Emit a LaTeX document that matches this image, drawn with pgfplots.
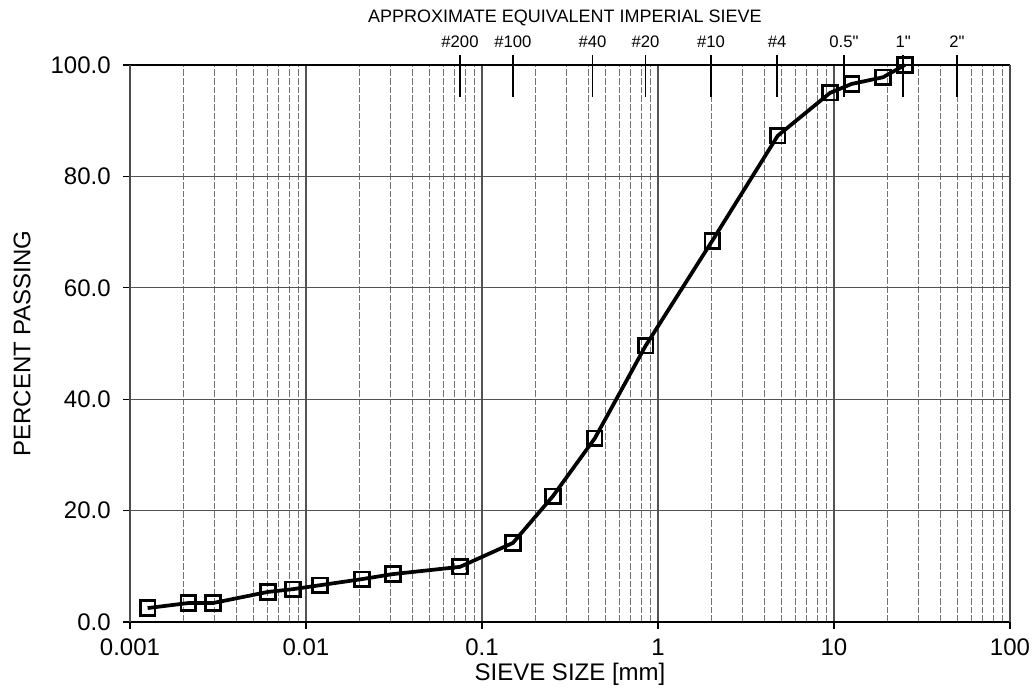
\documentclass[border=0pt]{standalone}
\usepackage{fontspec}
\setmainfont{Liberation Sans}[Ligatures=TeXOff]
\usepackage{pgfplots}
\pgfplotsset{compat=1.18}
\pgfplotstableread{
x y
0.00126 2.5
0.00214 3.4
0.00296 3.4
0.00608 5.4
0.00844 5.9
0.0120 6.6
0.0208 7.7
0.0312 8.6
0.075 9.9
0.150 14.2
0.253 22.6
0.438 33.0
0.851 49.6
2.03 68.4
4.79 87.3
9.5 95.0
12.6 96.6
19.0 97.8
25.3 100.0
}\gsd
\begin{document}
\begin{tikzpicture}
\useasboundingbox (-97.5pt,-55.5pt) rectangle (679.5pt,466.5pt);
\begin{axis}[
  at={(0pt,0pt)}, anchor=south west,
  scale only axis, width=660pt, height=417.75pt,
  xmode=log, xmin=0.001, xmax=100, ymin=0, ymax=100,
  xtick={0.001,0.01,0.1,1,10,100},
  xticklabels={0.001,0.01,0.1,1,10,100},
  minor xtick={0.002,0.003,0.004,0.005,0.006,0.007,0.008,0.009,
    0.02,0.03,0.04,0.05,0.06,0.07,0.08,0.09,
    0.2,0.3,0.4,0.5,0.6,0.7,0.8,0.9,
    2,3,4,5,6,7,8,9,20,30,40,50,60,70,80,90},
  ytick={0,20,40,60,80,100},
  yticklabels={0.0,20.0,40.0,60.0,80.0,100.0},
  xmajorgrids, xminorgrids, ymajorgrids,
  major grid style={draw=black!68, line width=0.9pt},
  minor grid style={draw=black!55, line width=0.6pt, dash pattern=on 5pt off 1.5pt},
  axis line style={draw=black!70, line width=0.9pt},
  separate axis lines,
  x axis line style={draw=black},
  tick align=outside, major tick length=5pt, minor tick length=0pt,
  xtick pos=bottom, ytick pos=left,
  tick style={black, line width=0.8pt},
  tick label style={font=\fontsize{18}{20}\selectfont},
  xticklabel style={yshift=-4pt},
  yticklabel style={xshift=-6pt},
  label style={font=\fontsize{18}{20}\selectfont},
  xlabel={SIEVE SIZE [mm]},
  ylabel={PERCENT PASSING},
  xlabel style={at={(rel axis cs:0.5,0)}, anchor=center, yshift=-39pt},
  ylabel style={at={(axis description cs:-0.1227,0.5)}, anchor=center},
  clip=false,
]
\addplot[black, line width=2.8pt, mark=square, mark size=5.5pt,
  mark options={line width=1.9pt, fill=none, solid}] table[x=x,y=y] {\gsd};
% approximate equivalent imperial sieve markers
\addplot[black, line width=1.3pt] coordinates {(0.075,94.3) (0.075,101.8)};
\addplot[black, line width=1.3pt] coordinates {(0.15,94.3) (0.15,101.8)};
\addplot[black, line width=1.3pt] coordinates {(0.425,94.3) (0.425,101.8)};
\addplot[black, line width=1.3pt] coordinates {(0.85,94.3) (0.85,101.8)};
\addplot[black, line width=1.3pt] coordinates {(2.0,94.3) (2.0,101.8)};
\addplot[black, line width=1.3pt] coordinates {(4.75,94.3) (4.75,101.8)};
\addplot[black, line width=1.3pt] coordinates {(11.4,94.3) (11.4,101.8)};
\addplot[black, line width=1.3pt] coordinates {(24.7,94.3) (24.7,101.8)};
\addplot[black, line width=1.3pt] coordinates {(50,94.3) (50,101.8)};
\begin{scope}[every node/.style={font=\fontsize{12.5}{14}\selectfont, inner sep=0pt, anchor=center}]
\node at (axis cs:0.075,104.2) {\#200};
\node at (axis cs:0.15,104.2) {\#100};
\node at (axis cs:0.425,104.2) {\#40};
\node at (axis cs:0.85,104.2) {\#20};
\node at (axis cs:2.0,104.2) {\#10};
\node at (axis cs:4.75,104.2) {\#4};
\node at (axis cs:11.4,104.2) {0.5"};
\node at (axis cs:24.7,104.2) {1"};
\node at (axis cs:50,104.2) {2"};
\end{scope}
\node[font=\fontsize{13.5}{15}\selectfont, inner sep=0pt, anchor=center] at (axis cs:0.296,108.5) {APPROXIMATE EQUIVALENT IMPERIAL SIEVE};
\end{axis}
\end{tikzpicture}
\end{document}
